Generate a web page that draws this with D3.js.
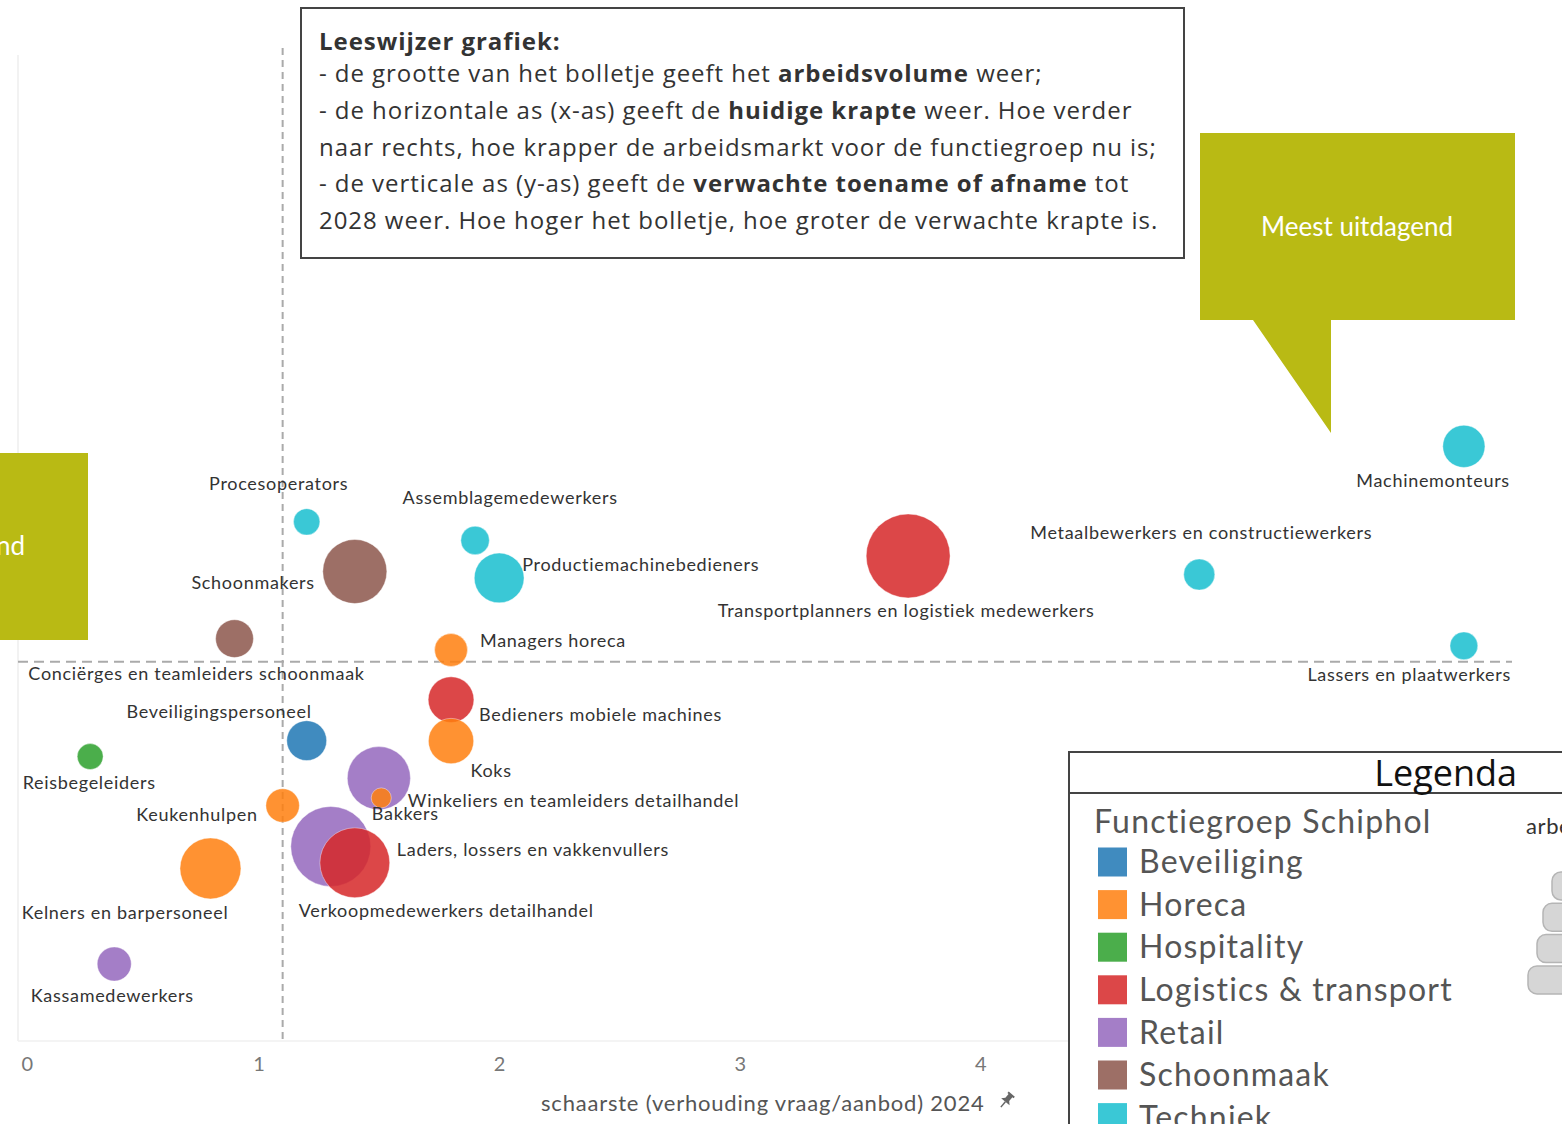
<!DOCTYPE html>
<html>
<head>
<meta charset="utf-8">
<script src="https://cdn.jsdelivr.net/npm/d3@7"></script>
<style>
body { margin:0; background:#fff; overflow:hidden; }
text { font-family: Lato, "Open Sans", sans-serif; }
</style>
</head>
<body>
<svg id="chart" width="1562" height="1124"></svg>
<script>
var functiegroepen = ["Beveiliging","Horeca","Hospitality","Logistics & transport","Retail","Schoonmaak","Techniek"]
var groepKleuren = ["#1f77b4","#ff7f0e","#2ca02c","#d62728","#9467bd","#8c564b","#17becf"]

var beroepen = ["Procesoperators","Schoonmakers","Conciërges en teamleiders schoonmaak","Assemblagemedewerkers",
	"Productiemachinebedieners","Managers horeca","Transportplanners en logistiek medewerkers",
	"Metaalbewerkers en constructiewerkers","Machinemonteurs","Lassers en plaatwerkers",
	"Bedieners mobiele machines","Koks","Beveiligingspersoneel","Reisbegeleiders",
	"Winkeliers en teamleiders detailhandel","Bakkers","Keukenhulpen","Verkoopmedewerkers detailhandel",
	"Laders, lossers en vakkenvullers","Kelners en barpersoneel","Kassamedewerkers"]
var groep = ["Techniek","Schoonmaak","Schoonmaak","Techniek","Techniek","Horeca","Logistics & transport",
	"Techniek","Techniek","Techniek","Logistics & transport","Horeca","Beveiliging","Hospitality",
	"Retail","Horeca","Horeca","Retail","Logistics & transport","Horeca","Retail"]
// schaarste (verhouding vraag/aanbod) 2024
var schaarste = [1.20,1.40,0.90,1.90,2.00,1.80,3.70,4.91,6.01,6.01,1.80,1.80,1.20,0.30,1.50,1.51,1.10,1.30,1.40,0.80,0.40]
// verwachte toename/afname tot 2028
var ontwikkeling = [3.69,2.38,0.61,3.20,2.21,0.31,2.79,2.30,5.68,0.42,-1.00,-2.09,-2.08,-2.50,-3.07,-3.59,-3.79,-4.87,-5.30,-5.45,-7.97]
var arbeidsvolume = [900,5300,1850,1050,3200,1400,9100,1250,2300,1000,2700,2650,2050,870,5150,520,1450,8250,6300,4800,1500]
var xTicks = [0,1,2,3,4]
var schaarsteGrens = 1.1
var ontwikkelingGrens = 0

// label placement relative to bubble centre: [dx, dy, anchor]
var labelPlek = {
	"Procesoperators":[-28,-38,"middle"],
	"Schoonmakers":[-40,11,"end"],
	"Conciërges en teamleiders schoonmaak":[-38,35,"middle"],
	"Assemblagemedewerkers":[35,-43,"middle"],
	"Productiemachinebedieners":[23,-13,"start"],
	"Managers horeca":[29,-9,"start"],
	"Transportplanners en logistiek medewerkers":[-2,55,"middle"],
	"Metaalbewerkers en constructiewerkers":[2,-42,"middle"],
	"Machinemonteurs":[46,34,"end"],
	"Lassers en plaatwerkers":[47,29,"end"],
	"Bedieners mobiele machines":[28,15,"start"],
	"Koks":[40,30,"middle"],
	"Beveiligingspersoneel":[5,-29,"end"],
	"Reisbegeleiders":[-1,26,"middle"],
	"Winkeliers en teamleiders detailhandel":[29,23,"start"],
	"Bakkers":[24,16,"middle"],
	"Keukenhulpen":[-25,9,"end"],
	"Verkoopmedewerkers detailhandel":[-32,64,"start"],
	"Laders, lossers en vakkenvullers":[42,-13,"start"],
	"Kelners en barpersoneel":[18,44,"end"],
	"Kassamedewerkers":[-2,32,"middle"]
}

var olijf = "#b9ba14"
var svg = d3.select("#chart")

var x = d3.scaleLinear().domain([0, 6.21]).range([18, 1512])
var y = d3.scaleLinear().domain([-10, 16]).range([1041, 55])
var r = d3.scaleSqrt().domain([0, 10000]).range([0, 44])
var kleur = d3.scaleOrdinal().domain(functiegroepen).range(groepKleuren)

var data = beroepen.map(function(b, i){
	return {naam:b, groep:groep[i], x:schaarste[i], y:ontwikkeling[i], v:arbeidsvolume[i]}
})

// axes
svg.append("line").attr("x1", x(0)).attr("x2", x(0)).attr("y1", 55).attr("y2", y(-10))
	.attr("stroke", "#eeeeee").attr("stroke-width", 1.5)
svg.append("line").attr("x1", x(0)).attr("x2", 1512).attr("y1", y(-10)).attr("y2", y(-10))
	.attr("stroke", "#f0f0f0").attr("stroke-width", 1.5)

var xAxis = svg.append("g").attr("transform", "translate(0," + y(-10) + ")")
	.call(d3.axisBottom(x).tickValues(xTicks).tickFormat(d3.format("d")).tickSize(0).tickPadding(16))
xAxis.select(".domain").remove()
xAxis.selectAll("text")
	.style("font-size", "20px").style("fill", "#777").style("font-family", "Lato, sans-serif")
	.attr("text-anchor", function(d){ return d === 0 ? "start" : "middle" })
	.attr("dx", function(d){ return d === 0 ? 3 : 0 })

svg.append("text").attr("x", 541).attr("y", 1111)
	.style("font-size", "22px").style("fill", "#555").style("letter-spacing", "0.8px")
	.text("schaarste (verhouding vraag/aanbod) 2024")
var pin = svg.append("g").attr("transform", "translate(1006,1101) rotate(40)")
pin.append("path").attr("d", "M-4,-9 h8 v2 h-1.5 v5 l3,3 h-11 l3,-3 v-5 h-1.5z").attr("fill", "#666")
pin.append("line").attr("x1", 0).attr("x2", 0).attr("y1", 1).attr("y2", 8).attr("stroke", "#666").attr("stroke-width", 1.5)

// reference lines
svg.append("line").attr("x1", x(schaarsteGrens)).attr("x2", x(schaarsteGrens)).attr("y1", 48).attr("y2", y(-10))
	.attr("stroke", "#aaa").attr("stroke-width", 2).attr("stroke-dasharray", "7,5")
svg.append("line").attr("x1", x(0)).attr("x2", 1512).attr("y1", y(ontwikkelingGrens)).attr("y2", y(ontwikkelingGrens))
	.attr("stroke", "#aaa").attr("stroke-width", 2).attr("stroke-dasharray", "10,6")

// bubbles
var sorted = data.slice().sort(function(a, b){ return b.v - a.v })
svg.append("g").selectAll("circle")
	.data(sorted)
	.enter().append("circle")
	.attr("cx", function(d){ return x(d.x) })
	.attr("cy", function(d){ return y(d.y) })
	.attr("r", function(d){ return r(d.v) })
	.attr("fill", function(d){ return kleur(d.groep) })
	.attr("fill-opacity", 0.85)
	.attr("stroke", "#fff").attr("stroke-opacity", 0.4).attr("stroke-width", 1)

svg.append("g").selectAll("text")
	.data(data)
	.enter().append("text")
	.attr("x", function(d){ return x(d.x) + labelPlek[d.naam][0] })
	.attr("y", function(d){ return y(d.y) + labelPlek[d.naam][1] })
	.attr("dy", "0.35em")
	.attr("text-anchor", function(d){ return labelPlek[d.naam][2] })
	.style("font-size", "18px").style("fill", "#333").style("letter-spacing", "0.7px")
	.text(function(d){ return d.naam })

// callouts
svg.append("path")
	.attr("d", "M1200,133 H1515 V320 H1331 V433 L1253,320 H1200 Z")
	.attr("fill", olijf)
svg.append("text").attr("x", 1357).attr("y", 227).attr("dy", "0.35em").attr("text-anchor", "middle")
	.style("font-size", "26px").style("fill", "#fff").text("Meest uitdagend")
svg.append("rect").attr("x", -240).attr("y", 453).attr("width", 328).attr("height", 187).attr("fill", olijf)
svg.append("text").attr("x", 25).attr("y", 546).attr("dy", "0.35em").attr("text-anchor", "end")
	.style("font-size", "26px").style("fill", "#fff").text("Minst uitdagend")

// leeswijzer
svg.append("rect").attr("x", 301).attr("y", 8).attr("width", 883).attr("height", 250)
	.attr("fill", "#fff").attr("stroke", "#444").attr("stroke-width", 2)
var leeswijzer = [
	[["Leeswijzer grafiek:", true]],
	[["- de grootte van het bolletje geeft het ", false], ["arbeidsvolume", true], [" weer;", false]],
	[["- de horizontale as (x-as) geeft de ", false], ["huidige krapte", true], [" weer. Hoe verder", false]],
	[["naar rechts, hoe krapper de arbeidsmarkt voor de functiegroep nu is;", false]],
	[["- de verticale as (y-as) geeft de ", false], ["verwachte toename of afname", true], [" tot", false]],
	[["2028 weer. Hoe hoger het bolletje, hoe groter de verwachte krapte is.", false]]
]
var lw = svg.append("g")
leeswijzer.forEach(function(regel, i){
	var t = lw.append("text").attr("x", 319).attr("y", i === 0 ? 42 : 74 + (i - 1) * 36.6).attr("dy", "0.35em")
		.style("font-size", "24px").style("fill", "#333").style("font-family", "'Open Sans', sans-serif")
		.style("letter-spacing", "0.95px")
	regel.forEach(function(deel){
		t.append("tspan").text(deel[0]).style("font-weight", deel[1] ? "bold" : "normal")
	})
})

// legenda
var leg = svg.append("g")
leg.append("rect").attr("x", 1069).attr("y", 752).attr("width", 600).attr("height", 500)
	.attr("fill", "#fff").attr("stroke", "#444").attr("stroke-width", 2)
leg.append("line").attr("x1", 1069).attr("x2", 1562).attr("y1", 793).attr("y2", 793)
	.attr("stroke", "#444").attr("stroke-width", 2)
leg.append("text").attr("x", 1517).attr("y", 773).attr("dy", "0.35em").attr("text-anchor", "end")
	.style("font-size", "36px").style("fill", "#111").style("font-family", "'Open Sans', sans-serif").text("Legenda")
leg.append("text").attr("x", 1094).attr("y", 822).attr("dy", "0.35em")
	.style("font-size", "32px").style("fill", "#555").style("letter-spacing", "1.2px").text("Functiegroep Schiphol")
var items = leg.selectAll("g.item").data(functiegroepen).enter().append("g").attr("class", "item")
	.attr("transform", function(d, i){ return "translate(1098," + (862 + i * 42.6) + ")" })
items.append("rect").attr("x", 0).attr("y", -14.5).attr("width", 29).attr("height", 29)
	.attr("fill", function(d){ return kleur(d) }).attr("fill-opacity", 0.85)
items.append("text").attr("x", 41).attr("dy", "0.35em")
	.style("font-size", "32px").style("fill", "#555").style("letter-spacing", "1.2px").text(function(d){ return d })

leg.append("text").attr("x", 1526).attr("y", 826).attr("dy", "0.35em")
	.style("font-size", "22px").style("fill", "#333").style("letter-spacing", "0.6px").text("arbeidsvolume")
var maatLinks = [1552, 1543, 1537, 1528]
leg.selectAll("rect.maat").data(maatLinks).enter().append("rect").attr("class", "maat")
	.attr("x", function(d){ return d }).attr("y", function(d, i){ return 872 + i * 31.3 })
	.attr("width", 60).attr("height", 28).attr("rx", 9)
	.attr("fill", "#d6d6d6").attr("stroke", "#b5b5b5").attr("stroke-width", 1.5)
</script>
</body>
</html>
